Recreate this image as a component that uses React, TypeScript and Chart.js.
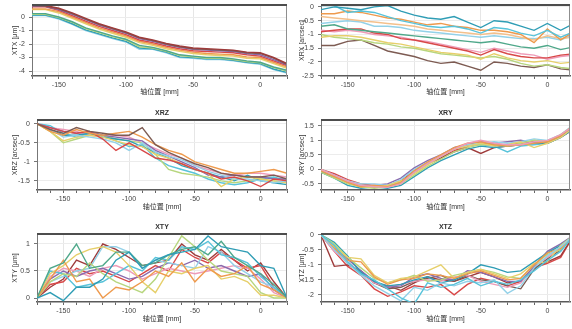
import React, { useEffect, useRef } from 'react';
import { Chart, registerables } from 'chart.js';

Chart.register(...registerables);

// ---- data ----
const POSITIONS = [-170, -160, -150, -140, -130, -120, -110, -100, -90, -80, -70, -60, -50, -40, -30, -20, -10, 0, 10, 20];
const X_TITLE = '轴位置 [mm]';

const XTX_SERIES = [
  [0.85, 0.85, 0.65, 0.3, -0.1, -0.5, -0.8, -1.1, -1.5, -1.7, -1.95, -2.15, -2.3, -2.35, -2.4, -2.45, -2.6, -2.65, -3.0, -3.45],
  [0.85, 0.82, 0.6, 0.25, -0.15, -0.55, -0.85, -1.15, -1.55, -1.75, -2.0, -2.2, -2.35, -2.4, -2.45, -2.5, -2.65, -2.7, -3.05, -3.5],
  [0.8, 0.8, 0.55, 0.2, -0.2, -0.6, -0.9, -1.2, -1.6, -1.8, -2.05, -2.25, -2.4, -2.45, -2.5, -2.55, -2.7, -2.8, -3.15, -3.55],
  [0.75, 0.75, 0.5, 0.1, -0.3, -0.7, -1.0, -1.3, -1.7, -1.9, -2.15, -2.35, -2.5, -2.55, -2.6, -2.65, -2.8, -2.9, -3.25, -3.6],
  [0.6, 0.6, 0.4, 0.0, -0.4, -0.8, -1.1, -1.4, -1.8, -2.0, -2.25, -2.45, -2.6, -2.7, -2.75, -2.8, -2.95, -3.0, -3.35, -3.7],
  [0.55, 0.55, 0.3, -0.1, -0.5, -0.9, -1.2, -1.5, -1.9, -2.1, -2.35, -2.55, -2.7, -2.8, -2.85, -2.9, -3.05, -3.1, -3.45, -3.8],
  [0.25, 0.25, 0.0, -0.35, -0.8, -1.1, -1.4, -1.65, -2.1, -2.25, -2.5, -2.8, -2.9, -3.0, -3.0, -3.1, -3.25, -3.35, -3.7, -3.95],
  [0.2, 0.2, -0.05, -0.4, -0.85, -1.15, -1.45, -1.7, -2.2, -2.3, -2.55, -2.85, -2.95, -3.05, -3.05, -3.15, -3.3, -3.4, -3.75, -4.0],
  [0.15, 0.15, -0.1, -0.5, -0.95, -1.25, -1.55, -1.8, -2.3, -2.35, -2.6, -2.95, -3.0, -3.1, -3.1, -3.2, -3.35, -3.45, -3.85, -4.1],
  [0.1, 0.1, -0.15, -0.55, -1.0, -1.3, -1.6, -1.85, -2.4, -2.4, -2.65, -3.0, -3.05, -3.15, -3.15, -3.25, -3.4, -3.5, -3.9, -4.15],
];
const XTX_COLORS = [0, 10, 8, 1, 2, 3, 5, 4, 6, 7];

const XRX_SERIES = [
  [-0.1, 0.0, -0.05, -0.1, 0.0, 0.05, -0.15, -0.3, -0.4, -0.45, -0.35, -0.55, -0.75, -0.5, -0.55, -0.7, -0.85, -0.6, -0.85, -0.6],
  [0.05, 0.05, -0.2, -0.15, -0.2, -0.35, -0.5, -0.6, -0.7, -0.75, -0.7, -0.8, -0.95, -0.75, -0.8, -0.95, -1.05, -0.85, -1.1, -0.9],
  [-0.25, -0.25, -0.15, -0.2, -0.3, -0.4, -0.45, -0.55, -0.65, -0.6, -0.7, -0.75, -0.85, -0.85, -0.9, -1.0, -1.3, -0.8, -1.2, -0.9],
  [-0.35, -0.4, -0.45, -0.5, -0.55, -0.6, -0.65, -0.7, -0.8, -0.85, -0.9, -0.95, -1.0, -0.95, -1.0, -1.1, -1.2, -1.05, -1.15, -1.1],
  [-0.6, -0.55, -0.5, -0.55, -0.7, -0.7, -0.75, -0.85, -0.9, -0.95, -1.0, -1.05, -1.1, -1.05, -1.1, -1.15, -1.15, -1.1, -1.2, -1.0],
  [-0.7, -0.65, -0.8, -0.85, -0.9, -0.95, -1.0, -1.05, -1.1, -1.15, -1.2, -1.25, -1.3, -1.25, -1.35, -1.45, -1.5, -1.4, -1.55, -1.45],
  [-0.9, -0.85, -0.8, -0.8, -0.95, -1.0, -1.15, -1.2, -1.3, -1.4, -1.5, -1.6, -1.75, -1.55, -1.7, -1.8, -1.85, -1.85, -1.75, -1.7],
  [-0.85, -0.9, -0.85, -0.9, -1.0, -1.05, -1.1, -1.2, -1.25, -1.35, -1.45, -1.55, -1.65, -1.5, -1.6, -1.7, -1.75, -1.9, -1.8, -1.75],
  [-1.1, -1.05, -1.05, -1.1, -1.2, -1.3, -1.35, -1.45, -1.55, -1.65, -1.7, -1.75, -1.9, -1.7, -1.85, -1.95, -2.0, -1.95, -2.05, -2.0],
  [-1.0, -1.1, -1.15, -1.2, -1.3, -1.35, -1.45, -1.5, -1.6, -1.7, -1.75, -1.8, -1.85, -1.8, -1.9, -2.05, -2.15, -2.1, -2.2, -2.25],
  [-1.4, -1.4, -1.25, -1.2, -1.4, -1.6, -1.7, -1.8, -1.95, -2.05, -2.0, -2.15, -2.3, -2.0, -2.05, -2.15, -2.2, -2.1, -2.25, -2.3],
];
const XRX_COLORS = [6, 11, 2, 12, 7, 5, 1, 9, 3, 4, 10];

const XRZ_SERIES = [
  [0, -0.15, -0.25, -0.1, -0.2, -0.25, -0.3, -0.3, -0.1, -0.55, -0.75, -0.9, -1.05, -1.15, -1.3, -1.35, -1.4, -1.4, -1.35, -1.45],
  [0, -0.2, -0.3, -0.15, -0.25, -0.3, -0.25, -0.2, -0.35, -0.55, -0.7, -0.8, -1.0, -1.1, -1.2, -1.3, -1.3, -1.25, -1.2, -1.3],
  [0, -0.1, -0.2, -0.25, -0.2, -0.4, -0.7, -0.5, -0.7, -0.9, -0.95, -1.05, -1.2, -1.3, -1.45, -1.4, -1.5, -1.65, -1.45, -1.5],
  [0, -0.15, -0.35, -0.3, -0.35, -0.4, -0.5, -0.7, -0.5, -0.75, -0.85, -0.95, -1.1, -1.25, -1.35, -1.45, -1.45, -1.5, -1.55, -1.5],
  [0, -0.2, -0.45, -0.35, -0.3, -0.35, -0.45, -0.55, -0.6, -0.8, -0.9, -1.05, -1.2, -1.3, -1.65, -1.45, -1.4, -1.45, -1.5, -1.55],
  [0, -0.1, -0.2, -0.25, -0.2, -0.3, -0.35, -0.4, -0.45, -0.7, -0.85, -1.0, -1.15, -1.35, -1.4, -1.35, -1.4, -1.4, -1.45, -1.45],
  [0, -0.15, -0.3, -0.3, -0.25, -0.35, -0.4, -0.45, -0.6, -0.75, -0.9, -1.1, -1.2, -1.3, -1.4, -1.5, -1.35, -1.5, -1.55, -1.6],
  [0, -0.2, -0.5, -0.4, -0.3, -0.3, -0.4, -0.45, -0.5, -0.8, -1.2, -1.3, -1.35, -1.4, -1.5, -1.55, -1.5, -1.45, -1.5, -1.55],
  [0, -0.05, -0.25, -0.35, -0.25, -0.3, -0.45, -0.6, -0.55, -0.9, -1.1, -1.2, -1.3, -1.45, -1.55, -1.6, -1.55, -1.45, -1.4, -1.5],
  [0, -0.1, -0.15, -0.2, -0.3, -0.35, -0.3, -0.35, -0.5, -0.65, -0.8, -0.9, -1.1, -1.2, -1.3, -1.35, -1.3, -1.3, -1.35, -1.4],
];
const XRZ_COLORS = [10, 2, 1, 7, 3, 8, 6, 4, 11, 9];

const XRY_SERIES = [
  [0, -0.2, -0.4, -0.55, -0.6, -0.62, -0.5, -0.1, 0.2, 0.45, 0.7, 0.9, 1.0, 0.9, 0.85, 0.85, 0.95, 1.0, 1.2, 1.5],
  [-0.05, -0.25, -0.45, -0.6, -0.55, -0.6, -0.45, -0.05, 0.25, 0.5, 0.75, 0.9, 0.95, 0.85, 0.8, 0.85, 0.9, 0.95, 1.15, 1.55],
  [0, -0.25, -0.45, -0.6, -0.6, -0.55, -0.4, -0.15, 0.15, 0.45, 0.7, 0.8, 0.9, 0.8, 0.85, 0.95, 0.75, 0.9, 1.1, 1.45],
  [-0.1, -0.3, -0.5, -0.6, -0.65, -0.6, -0.5, -0.2, 0.1, 0.35, 0.6, 0.75, 0.85, 0.85, 0.8, 0.9, 1.0, 0.95, 1.2, 1.5],
  [-0.1, -0.3, -0.55, -0.65, -0.6, -0.65, -0.55, -0.25, 0.05, 0.3, 0.5, 0.7, 0.8, 0.75, 0.8, 0.85, 0.9, 0.9, 1.1, 1.4],
  [-0.05, -0.2, -0.4, -0.5, -0.5, -0.55, -0.35, 0.0, 0.25, 0.45, 0.7, 0.85, 0.9, 0.95, 0.9, 0.95, 1.05, 1.0, 1.2, 1.55],
  [-0.1, -0.25, -0.45, -0.6, -0.55, -0.5, -0.3, 0.05, 0.3, 0.5, 0.75, 0.85, 0.95, 0.9, 0.95, 1.0, 0.9, 0.95, 1.15, 1.5],
  [0, -0.2, -0.4, -0.55, -0.6, -0.6, -0.45, -0.1, 0.2, 0.45, 0.75, 0.85, 0.85, 0.8, 0.6, 0.8, 0.85, 0.9, 1.1, 1.45],
  [-0.05, -0.2, -0.45, -0.6, -0.6, -0.55, -0.4, -0.05, 0.2, 0.4, 0.6, 0.75, 0.55, 0.75, 0.8, 0.85, 0.95, 0.9, 1.1, 1.4],
  [0, -0.15, -0.35, -0.5, -0.55, -0.6, -0.45, -0.1, 0.2, 0.4, 0.65, 0.8, 0.9, 0.85, 0.85, 0.9, 0.95, 0.95, 1.15, 1.5],
];
const XRY_COLORS = [9, 2, 3, 4, 6, 7, 8, 11, 0, 1];

const XTY_SERIES = [
  [0, 0.1, -0.05, 0.2, 0.2, 0.35, 0.7, 0.85, 0.55, 0.7, 0.8, 0.85, 0.9, 1.15, 0.95, 0.9, 0.85, 0.6, 0.55, 0],
  [0, 0.55, 0.65, 1.0, 0.55, 0.6, 0.85, 0.85, 0.6, 0.65, 0.8, 0.9, 0.95, 0.8, 1.05, 0.75, 0.6, 0.45, 0.25, 0],
  [0, 0.35, 0.7, 0.3, 0.35, 0.0, 0.2, 0.15, 0.3, 0.5, 0.4, 0.65, 0.3, 0.55, 0.4, 0.45, 0.6, 0.25, 0.15, 0],
  [0, 0.45, 0.6, 0.8, 0.9, 0.95, 0.85, 0.6, 0.3, 0.1, 0.5, 0.45, 0.55, 0.6, 0.35, 0.4, 0.3, 0.05, 0.05, 0],
  [0, 0.3, 0.45, 0.4, 0.65, 0.45, 0.3, 0.2, 0.1, 0.35, 0.75, 1.15, 0.95, 0.7, 0.5, 0.45, 0.4, 0.1, 0.0, 0],
  [0, 0.5, 0.45, 0.2, 0.25, 0.3, 0.45, 0.6, 0.5, 0.75, 0.7, 0.95, 0.9, 1.05, 0.8, 0.75, 0.65, 0.4, 0.2, 0],
  [0, 0.3, 0.4, 0.5, 0.55, 0.95, 0.95, 0.85, 0.55, 0.7, 0.65, 0.6, 0.55, 0.95, 0.85, 0.6, 0.45, 0.3, 0.2, 0],
  [0, 0.35, 0.5, 0.4, 0.5, 0.55, 0.45, 0.35, 0.4, 0.55, 0.65, 0.6, 0.7, 0.55, 0.6, 0.5, 0.4, 0.45, 0.15, 0],
  [0, 0.4, 0.55, 0.5, 0.4, 0.55, 0.6, 0.5, 0.35, 0.45, 0.55, 0.5, 0.45, 0.5, 0.55, 0.6, 0.55, 0.35, 0.1, 0],
  [0, 0.25, 0.3, 0.55, 0.45, 0.5, 0.4, 0.3, 0.45, 0.6, 0.5, 0.9, 0.75, 0.65, 0.85, 0.7, 0.55, 0.6, 0.2, 0],
  [0, 0.2, 0.35, 0.7, 0.6, 1.0, 0.9, 0.75, 0.6, 0.65, 0.7, 1.0, 0.8, 0.7, 0.9, 0.7, 0.5, 0.65, 0.3, 0],
];
const XTY_COLORS = [6, 5, 2, 3, 4, 11, 7, 8, 9, 1, 0];

const XTZ_SERIES = [
  [0, -0.35, -0.9, -1.3, -1.5, -1.8, -2.1, -2.3, -1.6, -1.75, -1.65, -1.45, -1.7, -1.55, -1.65, -1.5, -1.2, -0.85, -0.55, 0],
  [0, -0.5, -0.95, -1.35, -1.7, -1.95, -2.2, -1.75, -1.85, -1.6, -1.7, -1.55, -1.6, -1.5, -1.95, -1.7, -1.1, -0.7, -0.4, 0],
  [0, -0.45, -0.85, -0.9, -1.4, -1.65, -1.5, -1.45, -1.3, -1.35, -1.45, -1.3, -1.2, -1.35, -1.5, -1.45, -1.0, -0.6, -0.45, 0],
  [0, -0.4, -0.75, -0.8, -1.35, -1.6, -1.45, -1.4, -1.2, -1.0, -1.45, -1.25, -1.15, -1.3, -1.45, -1.3, -0.95, -0.9, -0.35, 0],
  [0, -0.3, -0.75, -1.1, -1.45, -1.6, -1.5, -1.35, -1.55, -1.5, -1.35, -1.25, -1.15, -1.25, -1.4, -1.45, -1.0, -0.65, -0.5, 0],
  [0, -0.25, -0.7, -1.25, -1.55, -1.7, -1.65, -1.5, -1.4, -1.6, -1.5, -1.3, -1.0, -1.1, -1.25, -1.2, -0.9, -0.6, -0.35, 0],
  [0, -0.4, -0.8, -1.2, -1.55, -1.75, -1.7, -1.4, -1.3, -1.45, -1.5, -1.2, -1.25, -1.4, -1.55, -1.55, -1.05, -0.55, -0.3, 0],
  [0, -0.55, -0.9, -1.3, -1.6, -1.75, -1.65, -1.55, -1.5, -1.55, -1.4, -1.35, -1.55, -1.65, -1.75, -1.6, -1.05, -0.75, -0.45, 0],
  [0, -0.45, -0.95, -1.25, -1.6, -1.8, -1.75, -1.55, -1.45, -1.35, -1.55, -1.35, -1.5, -1.55, -1.7, -1.8, -1.15, -0.8, -0.5, 0],
  [0, -1.05, -1.0, -1.2, -1.6, -1.7, -1.85, -1.6, -1.4, -1.5, -1.55, -1.4, -1.25, -1.4, -1.6, -1.55, -1.1, -0.9, -0.7, 0],
  [0, -0.55, -1.05, -1.35, -1.8, -2.05, -1.9, -1.7, -1.75, -1.65, -2.0, -1.65, -1.45, -1.55, -1.7, -1.55, -1.1, -0.95, -0.75, 0],
];
const XTZ_COLORS = [11, 7, 2, 3, 4, 6, 8, 9, 10, 0, 1];

// ---- styles ----
const PALETTE = [
  '#9E3B3B', '#D84848', '#EE9A4D', '#E6CF6A', '#B7D67E', '#4FA88A',
  '#2F9DB5', '#93D1E8', '#8A6AAE', '#EE9BB8', '#7D5B52', '#58C3DA', '#F3C08C',
];
const FONT = "'Liberation Sans', 'Noto Sans CJK SC', sans-serif";

type Panel = {
  title: string;
  yTitle: string;
  series: number[][];
  colors: number[];
  ymin: number;
  ymax: number;
  ystep: number;
  xmax: number;
  left: number;
  top: number;
  width: number;
  height: number;
  yAxisW: number;
  xAxisH: number;
  padTop: number;
  padBottom: number;
  padRight: number;
  yTitlePad: number;
};

const PANELS: Panel[] = [
  { title: 'XTX', yTitle: 'XTX [μm]', series: XTX_SERIES, colors: XTX_COLORS, ymin: -4.37, ymax: 0.89, ystep: 1, xmax: 20,
    left: 0, top: -14, width: 290, height: 114, yAxisW: 32, xAxisH: 20.7, padTop: 19, padBottom: 3.3, padRight: 3, yTitlePad: 10.8 },
  { title: 'XRX', yTitle: 'XRX [arcsec]', series: XRX_SERIES, colors: XRX_COLORS, ymin: -2.51, ymax: 0.07, ystep: 0.5, xmax: 17,
    left: 290, top: -14, width: 282, height: 114, yAxisW: 31, xAxisH: 20.7, padTop: 19, padBottom: 3.3, padRight: 2, yTitlePad: 7.8 },
  { title: 'XRZ', yTitle: 'XRZ [arcsec]', series: XRZ_SERIES, colors: XRZ_COLORS, ymin: -1.74, ymax: 0.1, ystep: 0.5, xmax: 20,
    left: 0, top: 100, width: 290, height: 113, yAxisW: 37, xAxisH: 21.2, padTop: 20, padBottom: 1.8, padRight: 3, yTitlePad: 10.8 },
  { title: 'XRY', yTitle: 'XRY [arcsec]', series: XRY_SERIES, colors: XRY_COLORS, ymin: -0.71, ymax: 1.7, ystep: 0.5, xmax: 17,
    left: 290, top: 100, width: 282, height: 113, yAxisW: 31, xAxisH: 21.2, padTop: 20, padBottom: 1.8, padRight: 2, yTitlePad: 7.8 },
  { title: 'XTY', yTitle: 'XTY [μm]', series: XTY_SERIES, colors: XTY_COLORS, ymin: -0.074, ymax: 1.185, ystep: 0.5, xmax: 20,
    left: 0, top: 213, width: 290, height: 116, yAxisW: 37, xAxisH: 21.2, padTop: 21, padBottom: 5.8, padRight: 3, yTitlePad: 10.8 },
  { title: 'XTZ', yTitle: 'XTZ [μm]', series: XTZ_SERIES, colors: XTZ_COLORS, ymin: -2.24, ymax: 0.03, ystep: 0.5, xmax: 17,
    left: 290, top: 213, width: 282, height: 116, yAxisW: 31, xAxisH: 21.2, padTop: 21, padBottom: 5.8, padRight: 2, yTitlePad: 7.8 },
];

const framePlugin = {
  id: 'frame',
  afterDraw(chart: any, _args: any, opts: any) {
    const { ctx, chartArea: a } = chart;
    ctx.save();
    ctx.strokeStyle = '#8f8f8f';
    ctx.lineWidth = 1;
    ctx.beginPath();
    ctx.moveTo(a.right - 0.5, a.top);
    ctx.lineTo(a.right - 0.5, a.bottom);
    ctx.stroke();
    ctx.strokeStyle = '#4d4d4d';
    ctx.lineWidth = 2;
    ctx.beginPath();
    ctx.moveTo(a.left, a.top);
    ctx.lineTo(a.right, a.top);
    ctx.stroke();
    ctx.font = `bold 7px ${FONT}`;
    ctx.fillStyle = '#333';
    ctx.textAlign = 'center';
    ctx.textBaseline = 'middle';
    ctx.fillText(opts.title || '', (a.left + a.right) / 2, a.top - 7);
    ctx.restore();
  },
};

function fmt(v: number): string {
  const n = Math.round(v * 100) / 100;
  return n === 0 ? '0' : String(n);
}

function PanelChart({ p }: { p: Panel }) {
  const ref = useRef<HTMLCanvasElement>(null);
  useEffect(() => {
    const chart = new Chart(ref.current as HTMLCanvasElement, {
      type: 'line',
      data: {
        datasets: p.series.map((s, i) => ({
          data: s.map((v, j) => ({ x: POSITIONS[j], y: v })),
          borderColor: PALETTE[p.colors[i]],
          backgroundColor: PALETTE[p.colors[i]],
          borderWidth: 1.4,
          pointRadius: 0,
          tension: 0,
          fill: false,
        })),
      },
      options: {
        animation: false,
        responsive: false,
        maintainAspectRatio: false,
        events: [],
        layout: { padding: { left: 0, right: p.padRight, top: p.padTop, bottom: p.padBottom } },
        plugins: {
          legend: { display: false },
          tooltip: { enabled: false },
          title: { display: false },
          frame: { title: p.title },
        } as any,
        scales: {
          x: {
            type: 'linear',
            min: -170,
            max: p.xmax,
            ticks: {
              stepSize: 10,
              autoSkip: false,
              maxRotation: 0,
              includeBounds: false,
              padding: 1.5,
              color: '#444',
              font: { size: 7, family: FONT },
              callback: (v: any) => (Math.round(Number(v)) % 50 === 0 ? String(Math.round(Number(v))) : ''),
            },
            grid: {
              color: (c: any) => (c.tick && Math.round(c.tick.value) % 50 === 0 ? '#e6e6e6' : 'rgba(0,0,0,0)'),
              tickColor: '#666',
              tickLength: 3,
            },
            border: { color: '#5a5a5a', width: 1.5 },
            title: { display: true, text: X_TITLE, color: '#333', font: { size: 7, family: FONT }, padding: 0 },
            afterFit: (s: any) => { s.height = p.xAxisH; },
          },
          y: {
            type: 'linear',
            min: p.ymin,
            max: p.ymax,
            ticks: {
              stepSize: p.ystep,
              includeBounds: false,
              padding: 4,
              color: '#444',
              font: { size: 7, family: FONT },
              callback: (v: any) => fmt(Number(v)),
            },
            grid: { color: '#ececec', tickColor: '#777', tickLength: 3 },
            border: { color: '#777', width: 1 },
            title: { display: true, text: p.yTitle, color: '#333', font: { size: 7, family: FONT }, padding: { top: p.yTitlePad, bottom: 0 } },
            afterFit: (s: any) => { s.width = p.yAxisW; },
          },
        },
      } as any,
      plugins: [framePlugin],
    });
    return () => chart.destroy();
  }, [p]);
  return (
    <div style={{ position: 'absolute', left: p.left, top: p.top, width: p.width, height: p.height }}>
      <canvas ref={ref} width={p.width} height={p.height} style={{ width: p.width, height: p.height, display: 'block' }} />
    </div>
  );
}

export default function App() {
  return (
    <div style={{ position: 'absolute', left: 0, top: 0, width: 572, height: 329, overflow: 'hidden', background: '#fff' }}>
      {PANELS.map((p) => (
        <PanelChart key={p.title} p={p} />
      ))}
    </div>
  );
}
